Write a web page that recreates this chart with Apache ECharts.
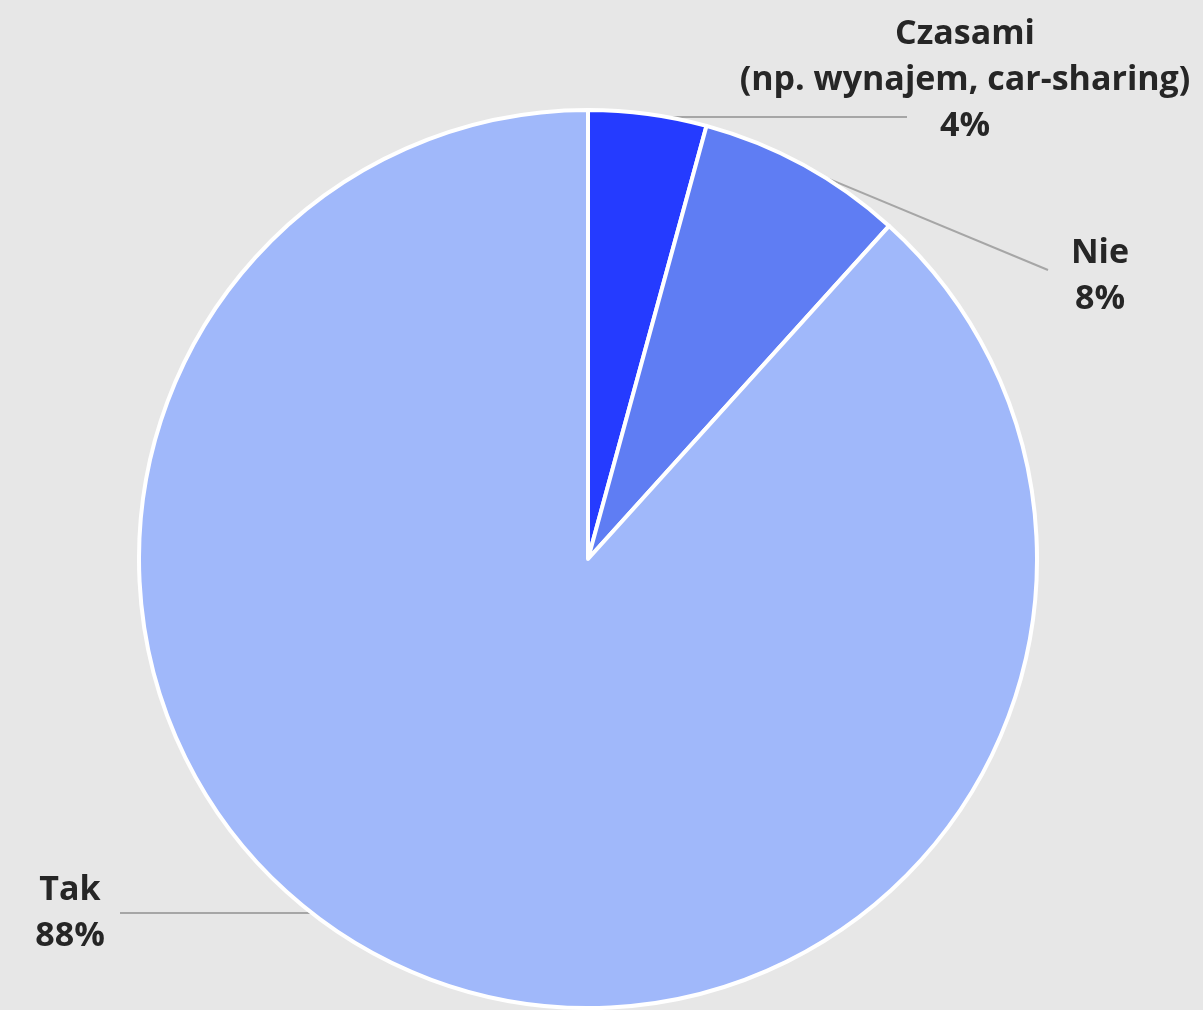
<!DOCTYPE html>
<html>
<head>
<meta charset="utf-8">
<script src="https://cdn.jsdelivr.net/npm/echarts@6/dist/echarts.min.js"></script>
<style>
  html, body { margin: 0; padding: 0; background: #e7e7e7; }
  #chart { width: 1203px; height: 1010px; }
</style>
</head>
<body>
<div id="chart"></div>
<script>
const categories = ['Czasami\n(np. wynajem, car-sharing)', 'Nie', 'Tak'];
const shares = [4.25, 7.45, 88.3];
const colors = ['#253bff', '#5f7df3', '#a0b8fa'];

// geometria kola
const PIE_X = 588;
const PIE_Y = 559;
const PIE_R = 449;

// gdzie stoja etykiety i jak idzie linia
const labelSpots = [
  { x: 965, y: 80, mode: 'midFlat', endX: 907 },
  { x: 1100, y: 276, mode: 'mid', end: [1048, 270] },
  { x: 70, y: 913, mode: 'level', endX: 120 }
];

const total = shares.reduce((a, b) => a + b, 0);

function midAngle(i) {
  let before = 0;
  for (let k = 0; k < i; k++) before += shares[k];
  return (before + shares[i] / 2) / total * Math.PI * 2;
}

function linePoints(i) {
  const spot = labelSpots[i];
  const a = midAngle(i);
  const rr = PIE_R - 3;
  if (spot.mode === 'level') {
    const dy = spot.y - PIE_Y;
    const dx = Math.sqrt(rr * rr - dy * dy);
    const side = Math.sin(a) < 0 ? -1 : 1;
    return [[PIE_X + side * (dx - 8), spot.y], [spot.endX, spot.y]];
  }
  const p = [PIE_X + rr * Math.sin(a), PIE_Y - rr * Math.cos(a)];
  if (spot.mode === 'midFlat') return [p, [spot.endX, p[1]]];
  return [p, spot.end];
}

const chart = echarts.init(document.getElementById('chart'));

const option = {
  backgroundColor: '#e7e7e7',
  animation: false,
  series: [{
    type: 'pie',
    center: [PIE_X, PIE_Y],
    radius: PIE_R,
    startAngle: 90,
    clockwise: true,
    percentPrecision: 0,
    data: categories.map((name, i) => ({
      name: name,
      value: shares[i],
      itemStyle: { color: colors[i] }
    })),
    itemStyle: {
      borderColor: '#ffffff',
      borderWidth: 4
    },
    label: {
      show: true,
      position: 'outside',
      formatter: '{b}\n{d}%',
      fontFamily: 'Open Sans',
      fontWeight: 'bold',
      fontSize: 34,
      lineHeight: 46,
      color: '#262626',
      align: 'center'
    },
    labelLine: {
      show: true,
      lineStyle: { color: '#a6a6a6', width: 2 }
    },
    labelLayout: function (params) {
      const spot = labelSpots[params.dataIndex];
      return {
        x: spot.x,
        y: spot.y,
        align: 'center',
        verticalAlign: 'middle',
        labelLinePoints: linePoints(params.dataIndex)
      };
    },
    emphasis: { disabled: true }
  }]
};

chart.setOption(option);
</script>
</body>
</html>
